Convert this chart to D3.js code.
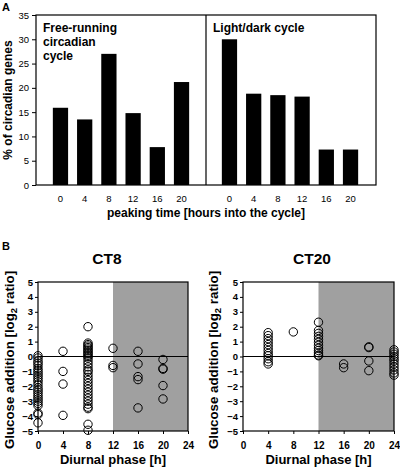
<!DOCTYPE html>
<html><head><meta charset="utf-8">
<script src="https://cdn.jsdelivr.net/npm/d3@7"></script>
<style>
body{margin:0;background:#fff;}
svg{display:block;font-family:"Liberation Sans",Arial,sans-serif;}
</style></head>
<body><div id="chart"></div>
<script>
// Panel A data
const peakTimes = ["0","4","8","12","16","20"];
const freeRunning = [15.9, 13.5, 27.0, 14.8, 7.8, 21.2];
const lightDark = [30.0, 18.8, 18.5, 18.2, 7.3, 7.3];
const yTicksA = [0,5,10,15,20,25,30,35];

// Panel B data (phase, log2 ratio)
const ct8Phase = [
  0,0,0,0,0,0,0,0,0,0,0,0,0,0,0,0,0,0,0,0,0,0,0,0,0,
  4,4,4,4,
  8,8,8,8,8,8,8,8,8,8,8,8,8,8,8,8,8,8,8,8,8,8,8,8,8,8,8,8,8,8,8,8,
  12,12,12,
  16,16,16,16,16,
  20,20,20,20,20
];
const ct8Value = [
  0.05,-0.1,-0.3,-0.45,-0.6,-0.8,-0.95,-1.1,-1.25,-1.4,-1.55,-1.7,-1.9,-2.1,-2.25,-2.4,-2.55,-2.7,-2.85,-3.0,-3.15,-3.3,-3.8,-3.9,-4.45,
  0.35,-1.0,-1.85,-3.95,
  2.0,0.9,0.8,0.7,0.6,0.5,0.4,0.3,0.2,0.1,0.0,-0.1,-0.3,-0.5,-0.7,-0.9,-1.0,-1.2,-1.4,-1.6,-1.8,-2.0,-2.2,-2.4,-2.6,-2.8,-3.0,-3.2,-3.4,-3.5,-4.55,-4.95,
  0.55,-0.6,-0.75,
  0.35,-0.5,-1.35,-1.55,-3.45,
  -0.2,-0.8,-0.85,-1.95,-2.85
];
const ct20Phase = [
  4,4,4,4,4,4,4,4,4,4,4,4,
  8,
  12,12,12,12,12,12,12,12,12,12,12,12,
  16,16,
  20,20,20,20,
  24,24,24,24,24,24,24,24,24,24,24
];
const ct20Value = [
  1.6,1.4,1.2,1.0,0.8,0.6,0.4,0.2,0.05,-0.15,-0.35,-0.5,
  1.65,
  2.3,1.75,1.55,1.35,1.15,0.95,0.75,0.55,0.4,0.25,0.1,0.05,
  -0.5,-0.75,
  0.65,0.6,-0.3,-0.95,
  0.45,0.3,0.15,0.0,-0.15,-0.3,-0.5,-0.7,-0.9,-1.1,-1.25
];
const phaseTicks = [0,4,8,12,16,20,24];
const ratioTicks = [-5,-4,-3,-2,-1,0,1,2,3,4,5];

const W = 400, H = 470;
const svg = d3.select("#chart").append("svg").attr("width", W).attr("height", H);
const FF = "'Liberation Sans',Arial,sans-serif";

// ---------- Panel A ----------
const aL = 36, aR = 376, aT = 15, aB = 185, aMid = 206;
const yA = d3.scaleLinear().domain([0,35]).range([aB, aT]);
const xLeft = d3.scaleBand().domain(peakTimes).range([48, 194]).paddingInner(0.37).paddingOuter(0.2);
const xRight = d3.scaleBand().domain(peakTimes).range([217, 363]).paddingInner(0.37).paddingOuter(0.2);

const gA = svg.append("g");
gA.selectAll("rect.fr").data(freeRunning).join("rect")
  .attr("x", (d,i)=>xLeft(peakTimes[i])).attr("width", xLeft.bandwidth())
  .attr("y", d=>yA(d)).attr("height", d=>aB - yA(d)).attr("fill","#000");
gA.selectAll("rect.ld").data(lightDark).join("rect")
  .attr("x", (d,i)=>xRight(peakTimes[i])).attr("width", xRight.bandwidth())
  .attr("y", d=>yA(d)).attr("height", d=>aB - yA(d)).attr("fill","#000");

gA.append("rect").attr("x", aL).attr("y", aT).attr("width", aR-aL).attr("height", aB-aT)
  .attr("fill","none").attr("stroke","#000").attr("stroke-width",1.2);
gA.append("line").attr("x1", aMid).attr("x2", aMid).attr("y1", aT).attr("y2", aB)
  .attr("stroke","#000").attr("stroke-width",1.2);

const axA = gA.append("g").attr("transform", `translate(${aL},0)`)
  .call(d3.axisLeft(yA).tickValues(yTicksA).tickSize(4).tickPadding(3));
axA.select(".domain").remove();
axA.selectAll("text").attr("font-size", 9.5).attr("fill","#000").style("font-family",FF);

const bxL = gA.append("g").attr("transform", `translate(0,${aB})`)
  .call(d3.axisBottom(xLeft).tickSize(0).tickPadding(10));
const bxR = gA.append("g").attr("transform", `translate(0,${aB})`)
  .call(d3.axisBottom(xRight).tickSize(0).tickPadding(10));
[bxL,bxR].forEach(g=>{ g.select(".domain").remove();
  g.selectAll("text").attr("font-size",9.5).attr("fill","#000").style("font-family",FF); });

gA.append("text").attr("x", 206).attr("y", 217).attr("text-anchor","middle")
  .attr("font-size", 12).attr("font-weight","bold").text("peaking time [hours into the cycle]");
gA.append("text").attr("transform","translate(12,100) rotate(-90)").attr("text-anchor","middle")
  .attr("font-size", 12).attr("font-weight","bold").text("% of circadian genes");

const frLines = ["Free-running","circadian","cycle"];
frLines.forEach((t,i)=>gA.append("text").attr("x",43).attr("y",32+i*14)
  .attr("font-size",12).attr("font-weight","bold").text(t));
gA.append("text").attr("x",213).attr("y",32).attr("font-size",12).attr("font-weight","bold").text("Light/dark cycle");

svg.append("text").attr("x",2).attr("y",11).attr("font-size",11).attr("font-weight","bold").text("A");
svg.append("text").attr("x",2).attr("y",250).attr("font-size",11).attr("font-weight","bold").text("B");

// ---------- Panel B ----------
function scatterPanel(left, right, title, titleX, ytitleX, phases, values) {
  const top = 282, bottom = 431;
  const x = d3.scaleLinear().domain([0,24]).range([left, right]);
  const y = d3.scaleLinear().domain([-5,5]).range([bottom, top]);
  const g = svg.append("g");
  g.append("rect").attr("x", x(12)).attr("y", top).attr("width", x(24)-x(12)).attr("height", bottom-top)
    .attr("fill","#a0a0a0");
  g.append("line").attr("x1", left).attr("x2", right).attr("y1", y(0)).attr("y2", y(0))
    .attr("stroke","#000").attr("stroke-width",1.2);
  g.selectAll("circle").data(values).join("circle")
    .attr("cx", (d,i)=>x(phases[i])).attr("cy", d=>y(d)).attr("r", 4.2)
    .attr("fill","none").attr("stroke","#000").attr("stroke-width",1);
  g.append("rect").attr("x", left).attr("y", top).attr("width", right-left).attr("height", bottom-top)
    .attr("fill","none").attr("stroke","#000").attr("stroke-width",1.2);
  const ay = g.append("g").attr("transform", `translate(${left},0)`)
    .call(d3.axisLeft(y).tickValues(ratioTicks).tickSize(3).tickPadding(2));
  ay.select(".domain").remove();
  ay.selectAll("text").attr("font-size",9.5).attr("font-weight","bold").attr("fill","#000")
    .style("font-family",FF);
  const ax = g.append("g").attr("transform", `translate(0,${bottom})`)
    .call(d3.axisBottom(x).tickValues(phaseTicks).tickSize(3).tickPadding(8));
  ax.select(".domain").remove();
  ax.selectAll("text").attr("font-size",10).attr("font-weight","bold").attr("fill","#000")
    .style("font-family",FF);
  g.append("text").attr("x", titleX).attr("y", 264).attr("text-anchor","middle")
    .attr("font-size",15.5).attr("font-weight","bold").text(title);
  g.append("text").attr("x", (left+right)/2).attr("y", 464).attr("text-anchor","middle")
    .attr("font-size",13).attr("font-weight","bold").text("Diurnal phase [h]");
  const yt = g.append("text").attr("transform", `translate(${ytitleX},360) rotate(-90)`)
    .attr("text-anchor","middle").attr("font-size",13.3).attr("font-weight","bold");
  yt.append("tspan").text("Glucose addition [log");
  yt.append("tspan").attr("font-size",9.5).attr("dy",3).text("2");
  yt.append("tspan").attr("dy",-3).text(" ratio]");
}
scatterPanel(38, 188, "CT8", 107, 14, ct8Phase, ct8Value);
scatterPanel(243, 394, "CT20", 312, 218, ct20Phase, ct20Value);
</script>
</body></html>
